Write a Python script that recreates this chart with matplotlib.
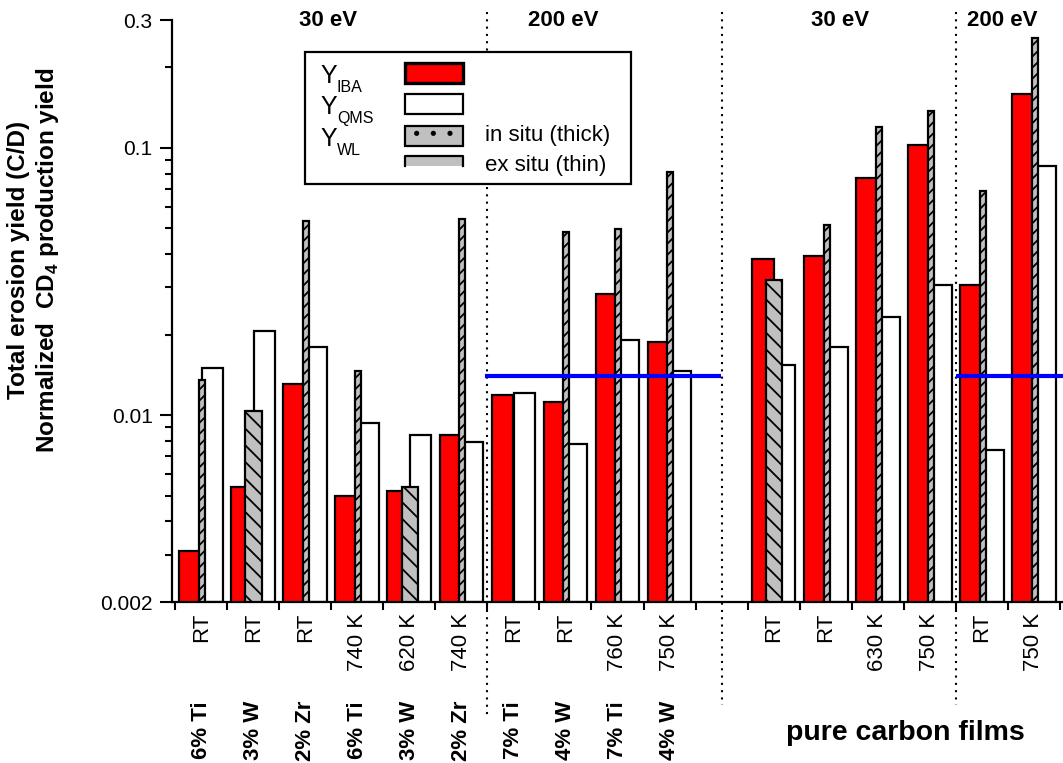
import numpy as np
import matplotlib
matplotlib.use("Agg")
import matplotlib.pyplot as plt
from matplotlib.patches import Rectangle
from matplotlib.ticker import FixedLocator, NullFormatter, LogLocator

plt.rcParams["font.family"] = ["Liberation Sans", "DejaVu Sans"]
plt.rcParams["mathtext.fontset"] = "custom"
plt.rcParams["mathtext.rm"] = "Liberation Sans"
plt.rcParams["mathtext.bf"] = "Liberation Sans:bold"
plt.rcParams["hatch.linewidth"] = 1.3

nan = np.nan

# slot index 10 is the empty gap between alloys and pure carbon films
temp_labels = ["RT", "RT", "RT", "740 K", "620 K", "740 K",
               "RT", "RT", "760 K", "750 K", "",
               "RT", "RT", "630 K", "750 K", "RT", "750 K"]
film_labels = ["6% Ti", "3% W", "2% Zr", "6% Ti", "3% W", "2% Zr",
               "7% Ti", "4% W", "7% Ti", "4% W"]

y_iba = [0.0031, 0.0054, 0.0131, 0.0050, 0.0052, 0.0084,
         0.0119, 0.0112, 0.0284, 0.0188, nan,
         0.0384, 0.0393, 0.0770, 0.102, 0.0306, 0.159]
y_qms = [0.0150, 0.0206, 0.0180, 0.0093, 0.0084, 0.0079,
         0.0121, 0.0078, 0.0191, 0.0146, nan,
         0.0154, 0.0180, 0.0233, 0.0306, 0.0074, 0.0851]
y_wl_thick = [nan, 0.0104, nan, nan, 0.0054, nan,
              nan, nan, nan, nan, nan,
              0.0320, nan, nan, nan, nan, nan]
y_wl_thin = [0.0135, nan, 0.053, 0.0146, nan, 0.054,
             nan, 0.0484, 0.0497, 0.0813, nan,
             nan, 0.0512, 0.119, 0.137, 0.069, 0.257]

ref_level = 0.014   # blue reference lines
ref_spans = [(5.96, 10.48), (15.0, 17.06)]
sections = [("30 eV", 2.93), ("200 eV", 7.45), ("30 eV", 12.78), ("200 eV", 15.9)]
dividers = [(6.0, -0.200), (10.5, -0.177), (15.0, -0.177)]

Y0 = 0.002
W, H = 1063, 763
AX_L, AX_R, AX_T, AX_B = 172, 1063, 20, 602

fig = plt.figure(figsize=(W / 100, H / 100), dpi=100)
ax = fig.add_axes([AX_L / W, (H - AX_B) / H, (AX_R - AX_L) / W, (AX_B - AX_T) / H])


def px2ax(px, py):
    return (px - AX_L) / (AX_R - AX_L), (AX_B - py) / (AX_B - AX_T)


x = np.arange(len(temp_labels))
iba = np.array(y_iba)
qms = np.array(y_qms)
thick = np.array(y_wl_thick)
thin = np.array(y_wl_thin)

edge = dict(edgecolor="black", linewidth=1.6, align="edge")
ax.bar(x + 0.52, qms - Y0, 0.40, bottom=Y0, color="white", zorder=2, **edge)
ax.bar(x + 0.08, iba - Y0, 0.42, bottom=Y0, color="#ff0000", zorder=3, **edge)
ax.bar(x + 0.35, thick - Y0, 0.31, bottom=Y0, color="#c0c0c0", hatch="\\\\",
       zorder=4, **edge)
ax.bar(x + 0.46, thin - Y0, 0.115, bottom=Y0, color="#c0c0c0", hatch="///",
       zorder=4, **edge)

for x0, x1 in ref_spans:
    ax.plot([x0, x1], [ref_level, ref_level], color="#0000ff", lw=3,
            zorder=6, clip_on=False, solid_capstyle="butt")

# axes setup
ax.set_yscale("log")
ax.set_ylim(Y0, 0.3)
ax.set_xlim(-0.06, 17.06)
ax.yaxis.set_major_locator(FixedLocator([0.002, 0.01, 0.1, 0.3]))
ax.set_yticklabels(["0.002", "0.01", "0.1", "0.3"])
ax.yaxis.set_minor_locator(LogLocator(base=10, subs=np.arange(2, 10)))
ax.yaxis.set_minor_formatter(NullFormatter())
ax.tick_params(axis="y", which="major", length=9, width=1.5, labelsize=15, pad=5)
ax.tick_params(axis="y", which="minor", length=5, width=1.5)

ax.set_xticks(np.arange(0, 18))
ax.set_xticklabels([])
ax.set_xticks(x + 0.5, minor=True)
ax.set_xticklabels(temp_labels, minor=True, rotation=90, fontsize=16)
ax.tick_params(axis="x", which="major", length=6, width=1.5)
ax.tick_params(axis="x", which="minor", length=0, pad=8)

ax.spines[["top", "right"]].set_visible(False)
ax.spines[["left", "bottom"]].set_linewidth(1.6)

trans = ax.get_xaxis_transform()
for xd, ybot in dividers:
    ax.plot([xd, xd], [1.014, ybot], transform=trans, clip_on=False,
            color="black", lw=1.5, linestyle=(0, (1, 2.5)), zorder=1)

for label, xc in sections:
    ax.text(xc, 1.0, label, transform=trans, ha="center", va="center",
            fontsize=16, fontweight="bold")

for i, lab in enumerate(film_labels):
    ax.text(i + 0.5, -0.170, lab, transform=trans, rotation=90, ha="center",
            va="top", fontsize=16, fontweight="bold", clip_on=False)

ax.text(14.04, -0.225, "pure carbon films", transform=trans, ha="center",
        va="center", fontsize=20.5, fontweight="bold")

fig.text(34 / W, 1 - 260 / H,
         "Total erosion yield (C/D)\nNormalized  CD$_\\mathbf{4}$ production yield",
         rotation=90, ha="center", va="center", fontsize=17.5, fontweight="bold",
         multialignment="center", linespacing=1.2)

# hand-built legend
lx0, ly0 = px2ax(305, 184)
lx1, ly1 = px2ax(631, 52)
ax.add_patch(Rectangle((lx0, ly0), lx1 - lx0, ly1 - ly0, transform=ax.transAxes,
                       facecolor="white", edgecolor="black", lw=1.6,
                       zorder=10, clip_on=False))

rows = [("IBA", 63, 83, dict(facecolor="#ff0000", lw=2.4)),
        ("QMS", 94, 114, dict(facecolor="white", lw=1.6)),
        ("WL", 126, 146, dict(facecolor="#c0c0c0", lw=1.6, hatch="."))]
for sub, top, bot, style in rows:
    ax0, ay0 = px2ax(405, bot)
    ax1, ay1 = px2ax(463, top)
    ax.add_patch(Rectangle((ax0, ay0), ax1 - ax0, ay1 - ay0, transform=ax.transAxes,
                           edgecolor="black", zorder=11, clip_on=False, **style))
    tx, ty = px2ax(320, bot)
    ax.text(tx, ty, "Y", transform=ax.transAxes, fontsize=18, ha="left",
            va="baseline", zorder=12)
    sx, sy = px2ax(337, bot + 9)
    ax.text(sx, sy, sub, transform=ax.transAxes, fontsize=11.5, ha="left",
            va="baseline", zorder=12)

# truncated swatch for ex situ
ax0, ay0 = px2ax(405, 166)
ax1, ay1 = px2ax(463, 156)
ax.add_patch(Rectangle((ax0, ay0), ax1 - ax0, ay1 - ay0, transform=ax.transAxes,
                       facecolor="#c0c0c0", edgecolor="none", hatch="///",
                       zorder=11, clip_on=False))
ax.plot([ax0, ax0, ax1, ax1], [ay0, ay1, ay1, ay0], transform=ax.transAxes,
        color="black", lw=1.6, zorder=12, clip_on=False)

for txt, yc in [("in situ (thick)", 136), ("ex situ (thin)", 165)]:
    tx, ty = px2ax(485, yc)
    ax.text(tx, ty, txt, transform=ax.transAxes, fontsize=16, ha="left",
            va="center", zorder=12)

fig.savefig("out.png", dpi=100)
